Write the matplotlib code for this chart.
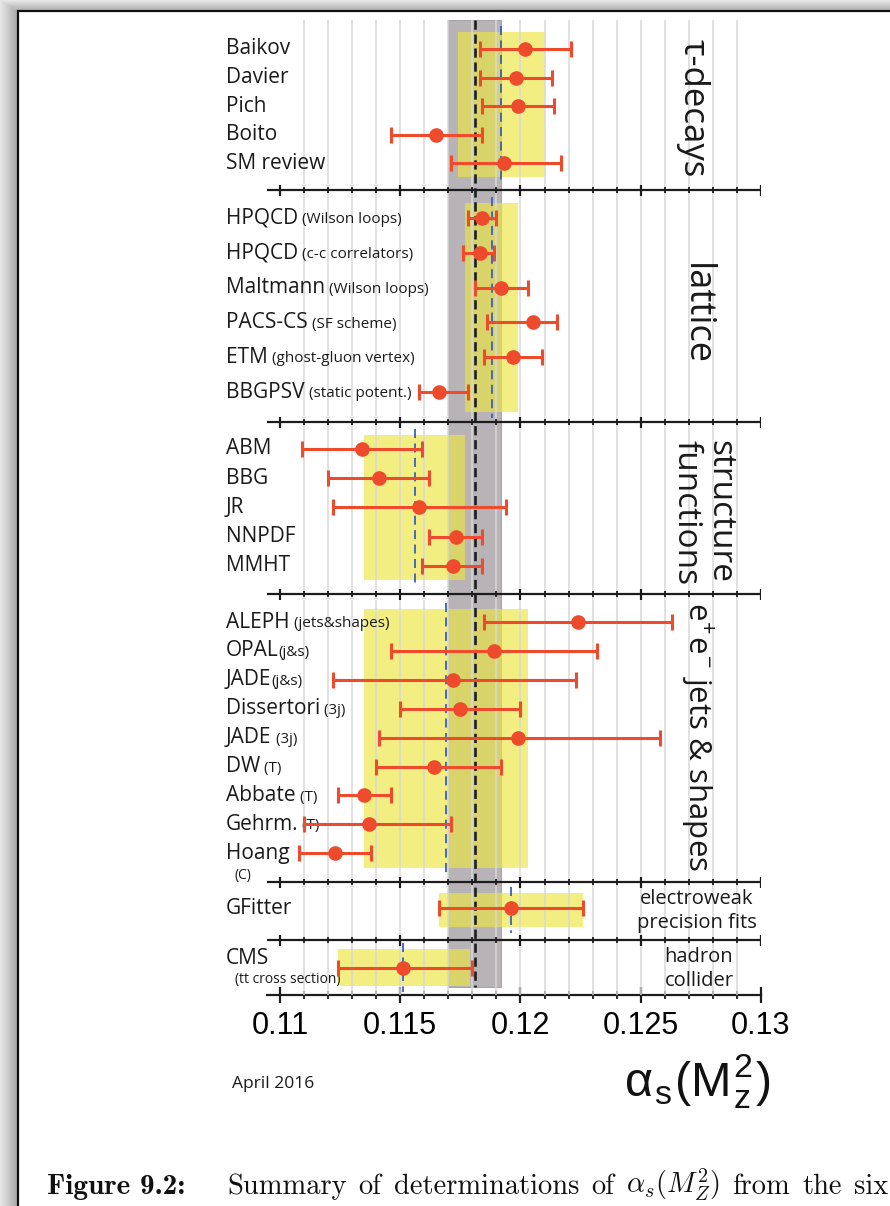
import numpy as np
import matplotlib
matplotlib.use('Agg')
import matplotlib.pyplot as plt
from matplotlib import transforms

plt.rcParams['font.family'] = ['Open Sans', 'DejaVu Sans']
plt.rcParams['mathtext.fontset'] = 'cm'

# world average alpha_s(M_Z^2)
wa_val = 0.1181
wa_err = 0.0011

# tau decays
tau_names = ['Baikov', 'Davier', 'Pich', 'Boito', 'SM review']
tau_notes = ['', '', '', '', '']
tau_vals = [0.1202, 0.1198, 0.1199, 0.1165, 0.1193]
tau_down = [0.0019, 0.0015, 0.0015, 0.0019, 0.0022]
tau_up = [0.0019, 0.0015, 0.0015, 0.0019, 0.0024]

# lattice
lat_names = ['HPQCD', 'HPQCD', 'Maltmann', 'PACS-CS', 'ETM', 'BBGPSV']
lat_notes = [' (Wilson loops)', ' (c-c correlators)', ' (Wilson loops)', ' (SF scheme)',
             ' (ghost-gluon vertex)', ' (static potent.)']
lat_vals = [0.1184, 0.1183, 0.1192, 0.1205, 0.1197, 0.1166]
lat_down = [0.0006, 0.0007, 0.0011, 0.0019, 0.0012, 0.0008]
lat_up = [0.0006, 0.0006, 0.0011, 0.0010, 0.0012, 0.0012]

# structure functions
sf_names = ['ABM', 'BBG', 'JR', 'NNPDF', 'MMHT']
sf_notes = ['', '', '', '', '']
sf_vals = [0.1134, 0.1141, 0.1158, 0.1173, 0.1172]
sf_down = [0.0025, 0.0021, 0.0036, 0.0011, 0.0013]
sf_up = [0.0025, 0.0021, 0.0036, 0.0011, 0.0012]

# e+e- jets & shapes
ee_names = ['ALEPH', 'OPAL', 'JADE', 'Dissertori', 'JADE', 'DW', 'Abbate', 'Gehrm.', 'Hoang']
ee_notes = [' (jets&shapes)', '(j&s)', '(j&s)', ' (3j)', ' (3j)', ' (T)', ' (T)', ' (T)', '\n(C)']
ee_vals = [0.1224, 0.1189, 0.1172, 0.1175, 0.1199, 0.1164, 0.1135, 0.1137, 0.1123]
ee_down = [0.0039, 0.0043, 0.0050, 0.0025, 0.0058, 0.0024, 0.0011, 0.0027, 0.0015]
ee_up = [0.0039, 0.0043, 0.0051, 0.0025, 0.0059, 0.0028, 0.0011, 0.0034, 0.0015]

# electroweak precision fits
ew_names = ['GFitter']
ew_notes = ['']
ew_vals = [0.1196]
ew_down = [0.0030]
ew_up = [0.0030]

# hadron collider
had_names = ['CMS']
had_notes = ['\n(tt cross section)']
had_vals = [0.1151]
had_down = [0.0027]
had_up = [0.0029]

# pre-averages of the sub-fields
sec_titles = ['τ-decays', 'lattice', 'structure\nfunctions',
              r'e$^\mathregular{+}$e$^\mathregular{-}$ jets & shapes',
              'electroweak\nprecision fits', 'hadron\ncollider']
sec_avg = [0.1192, 0.1188, 0.1156, 0.1169, 0.1196, 0.1151]
sec_down = [0.0018, 0.0011, 0.0021, 0.0034, 0.0030, 0.0027]
sec_up = [0.0018, 0.0011, 0.0021, 0.0034, 0.0030, 0.0028]

tick_vals = [0.11, 0.115, 0.12, 0.125, 0.13]
tick_labels = ['0.11', '0.115', '0.12', '0.125', '0.13']

names = [tau_names, lat_names, sf_names, ee_names, ew_names, had_names]
notes = [tau_notes, lat_notes, sf_notes, ee_notes, ew_notes, had_notes]
vals = [tau_vals, lat_vals, sf_vals, ee_vals, ew_vals, had_vals]
downs = [tau_down, lat_down, sf_down, ee_down, ew_down, had_down]
ups = [tau_up, lat_up, sf_up, ee_up, ew_up, had_up]

# layout (pixel rows of the page)
W, H = 890, 1206
row_first = [49, 218, 449, 622, 908, 968]
row_step = [28.6, 34.8, 29.2, 28.9, 0, 0]
box_top = [32, 203, 435, 609, 893, 949]
box_bot = [177, 412, 580, 868, 927, 986]
seps = [190, 422, 594, 882, 940]
y_bottom = 995
y_top = 10
title_x = [693, 696, 703, 697, 697, 699]
title_y = [108, 314, 440, 737, 911, 969]
title_size = [25, 26, 24, 22.5, 14.5, 14.5]

red = '#ee4a2c'
txt = '#1a1a1a'

fig = plt.figure(figsize=(W / 100, H / 100), dpi=100)

# page with grey shadow and frame
bg = fig.add_axes([0, 0, 1, 1], zorder=-5)
xx, yy = np.meshgrid(np.arange(W), np.arange(H))
shade = np.clip(np.minimum(xx / 17.0, yy / 11.0), 0, 1)
bg.imshow(0.90 - 0.24 * shade, cmap='gray', vmin=0, vmax=1, extent=(0, W, H, 0),
          interpolation='nearest', aspect='auto')
bg.add_patch(plt.Rectangle((18, 11), W, H, facecolor='white', edgecolor='#111111', lw=1.6))
bg.set_xlim(0, W)
bg.set_ylim(H, 0)
bg.axis('off')

# main axes
x0, x1 = 0.10946, 0.13
ax = fig.add_axes([267 / W, 1 - y_bottom / H, (761 - 267) / W, (y_bottom - y_top) / H])
ax.set_xlim(x0, x1)
ax.set_ylim(y_bottom, y_top)
ax.patch.set_alpha(0)
for s in ['top', 'left', 'right']:
    ax.spines[s].set_visible(False)
ax.spines['bottom'].set_linewidth(1.6)
ax.spines['bottom'].set_color('#1c1c1c')
ax.set_yticks([])
ax.set_xticks(tick_vals)
ax.set_xticklabels(tick_labels, fontfamily='Liberation Sans', fontsize=22)
minor = np.arange(0.110, 0.1305, 0.001)
ax.set_xticks(minor, minor=True)
ax.tick_params(axis='x', which='major', direction='inout', length=11, width=1.6, pad=6, color='#1c1c1c')
ax.tick_params(axis='x', which='minor', direction='inout', length=6, width=1.3, color='#1c1c1c')

# grid
ax.vlines(np.arange(0.111, 0.1295, 0.001), y_bottom, 20, colors='#d9d9d9', lw=1.1, zorder=3)

# world average band
ax.fill_betweenx([20, 987], wa_val - wa_err, wa_val + wa_err, facecolor='#b7b3b7',
                 edgecolor='#9d999d', lw=0.6, zorder=1)
ax.vlines(wa_val, 20, 987, colors='#1e1e1e', linestyles=(0, (3.5, 1.8)), lw=1.9, zorder=5)

trans = transforms.blended_transform_factory(fig.transFigure, ax.transData)

for k in range(6):
    ys = row_first[k] + row_step[k] * np.arange(len(vals[k]))
    lo = sec_avg[k] - sec_down[k]
    hi = sec_avg[k] + sec_up[k]
    ax.fill_betweenx([box_top[k], box_bot[k]], lo, hi, color='#ece642', alpha=0.66, lw=0, zorder=2)
    ax.vlines(sec_avg[k], box_top[k] - 6, box_bot[k] + 6, colors='#3a5ec0',
              linestyles=(0, (5, 3)), lw=1.3, zorder=4)
    ax.errorbar(vals[k], ys, xerr=[downs[k], ups[k]], fmt='o', color=red, ms=9.5,
                elinewidth=2.2, capsize=6, capthick=2.2, zorder=6)

    # labels on the left
    for name, note, y in zip(names[k], notes[k], ys):
        ly = y - 10 if k == 5 else y
        t = ax.text(226 / W, ly, name, transform=trans, fontsize=15, va='center', ha='left', color=txt)
        if note.startswith('\n'):
            ax.text(235 / W, ly + 22, note.strip(), transform=trans, fontsize=10,
                    va='center', ha='left', color=txt)
        elif note:
            ax.annotate(note, xy=(1, 0), xycoords=t, xytext=(0, 1.0), textcoords='offset points',
                        fontsize=11, va='bottom', ha='left', color=txt)

    # titles on the right
    if k < 4:
        ax.text(title_x[k] / W, title_y[k], sec_titles[k], transform=trans, rotation=270,
                fontsize=title_size[k], ha='center', va='top' if k == 2 else 'center',
                multialignment='left', color=txt, linespacing=1.0)
    else:
        ax.text(title_x[k] / W, title_y[k], sec_titles[k], transform=trans, fontsize=title_size[k],
                ha='center', va='center', multialignment='center', color=txt, linespacing=1.3)

# separators between sub-fields
maj = np.array(tick_vals)
mnr = np.array([m for m in minor if np.min(np.abs(maj - m)) > 1e-6])
for y in seps:
    ax.hlines(y, x0, x1, colors='#1c1c1c', lw=1.6, zorder=7)
    ax.vlines(mnr, y - 3, y + 3, colors='#1c1c1c', lw=1.3, zorder=7)
    ax.vlines(maj, y - 5.5, y + 5.5, colors='#1c1c1c', lw=1.6, zorder=7)

# bottom texts
fig.text(232 / W, 1 - 1084 / H, 'April 2016', fontsize=12.5, va='center', ha='left', color=txt)
fig.text(697 / W, 1 - 1082 / H, r'α$_\mathregular{s}$(M$_\mathregular{z}^\mathregular{2}$)',
         fontfamily='Liberation Sans', fontsize=35, ha='center', va='center', color='#111111')

# caption (justified)
cap_y = 1 - 1194 / H
fig.text(47 / W, cap_y, 'Figure 9.2:', fontfamily='cmb10', fontsize=21, va='baseline', color='#111111')
cap_words = ['Summary', 'of', 'determinations', 'of', r'$\alpha_s(M_Z^2)$', 'from', 'the', 'six']
r = fig.canvas.get_renderer()
cap_texts = [fig.text(0, cap_y, w, fontfamily='cmr10', fontsize=20.5, va='baseline', color='#111111')
             for w in cap_words]
widths = [c.get_window_extent(r).width for c in cap_texts]
start, end = 227, 888
gap = (end - start - sum(widths)) / (len(cap_words) - 1)
pos = start
for c, w in zip(cap_texts, widths):
    c.set_x(pos / W)
    pos += w + gap
fig.text(47 / W, 1 - 1229 / H, 'sub-fields discussed in the text. The yellow (light shaded) bands and dashed lines',
         fontfamily='cmr10', fontsize=20.5, va='baseline', color='#111111')

fig.savefig('out.png', dpi=100)
